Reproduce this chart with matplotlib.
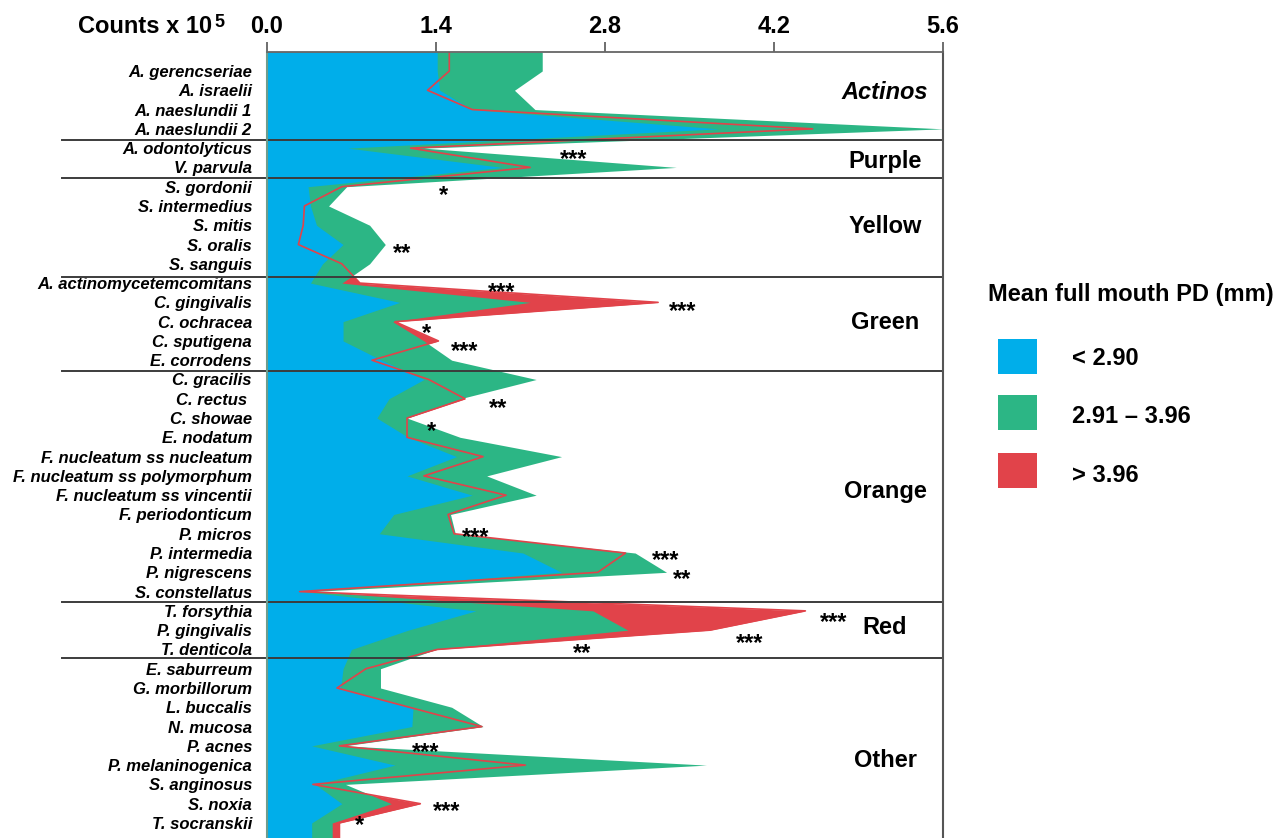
import numpy as np
import matplotlib
matplotlib.use("Agg")
import matplotlib.pyplot as plt
from matplotlib.patches import Rectangle

plt.rcParams['font.family'] = ['Liberation Sans', 'DejaVu Sans']

species = ["A. gerencseriae", "A. israelii", "A. naeslundii 1", "A. naeslundii 2",
           "A. odontolyticus", "V. parvula",
           "S. gordonii", "S. intermedius", "S. mitis", "S. oralis", "S. sanguis",
           "A. actinomycetemcomitans", "C. gingivalis", "C. ochracea", "C. sputigena", "E. corrodens",
           "C. gracilis", "C. rectus ", "C. showae", "E. nodatum", "F. nucleatum ss nucleatum",
           "F. nucleatum ss polymorphum", "F. nucleatum ss vincentii", "F. periodonticum",
           "P. micros", "P. intermedia", "P. nigrescens", "S. constellatus",
           "T. forsythia", "P. gingivalis", "T. denticola",
           "E. saburreum", "G. morbillorum", "L. buccalis", "N. mucosa", "P. acnes",
           "P. melaninogenica", "S. anginosus", "S. noxia", "T. socranskii"]

# mean counts x 10^5 for each PD category
low = [1.41, 1.43, 1.70, 3.74, 0.67, 1.95, 0.34, 0.36, 0.41, 0.63, 0.46,
       0.36, 1.10, 0.63, 0.63, 0.95, 1.30, 1.01, 0.91, 1.17, 1.57, 1.16, 1.70,
       1.05, 0.93, 2.12, 2.44, 0.30, 1.73, 1.17, 0.70, 0.63, 0.61, 1.21, 1.20,
       0.37, 1.06, 0.40, 0.62, 0.37]
mid = [2.28, 2.05, 2.22, 5.60, 1.30, 3.39, 0.66, 0.51, 0.85, 0.98, 0.85,
       0.62, 2.18, 1.04, 1.30, 1.53, 2.23, 1.60, 1.16, 1.60, 2.44, 1.82, 2.23,
       1.52, 1.56, 3.05, 3.31, 0.36, 2.70, 2.99, 1.40, 0.94, 0.94, 1.53, 1.79,
       0.64, 3.64, 0.65, 1.03, 0.54]
high = [1.51, 1.33, 1.70, 4.52, 1.19, 2.18, 0.62, 0.31, 0.30, 0.26, 0.62,
        0.77, 3.24, 1.06, 1.42, 0.87, 1.34, 1.64, 1.16, 1.16, 1.79, 1.30, 1.98,
        1.50, 1.55, 2.97, 2.74, 0.27, 4.46, 3.67, 1.41, 0.82, 0.58, 1.18, 1.78,
        0.60, 2.14, 0.38, 1.27, 0.60]

groups = ["Actinos", "Purple", "Yellow", "Green", "Orange", "Red", "Other"]
group_rows = [2.45, 6.03, 9.40, 14.38, 23.15, 30.20, 37.10]
group_sep = [4.58, 6.57, 11.67, 16.54, 28.56, 31.46]

# significance marks: (row baseline, x value, text)
stars = [(5.95, 2.54, "***"), (7.82, 1.46, "*"), (10.80, 1.12, "**"),
         (12.80, 1.94, "***"), (13.80, 3.44, "***"), (14.95, 1.32, "*"),
         (15.86, 1.64, "***"), (18.82, 1.91, "**"), (20.03, 1.36, "*"),
         (25.51, 1.73, "***"), (26.75, 3.30, "***"), (27.70, 3.44, "**"),
         (29.92, 4.69, "***"), (31.04, 4.00, "***"), (31.56, 2.61, "**"),
         (36.66, 1.31, "***"), (39.72, 1.49, "***"), (40.45, 0.765, "*")]

legend_labels = ["< 2.90", "2.91 \u2013 3.96", "> 3.96"]

c_blue = '#00AEEA'
c_green = '#2CB685'
c_red = '#E1434A'

W, H = 1277, 838
fig = plt.figure(figsize=(W / 100, H / 100), dpi=100)
ax = fig.add_axes([267 / W, 0, 676 / W, (H - 52) / H])

y_top, y_bot = 0.0145, 40.78
rows = np.arange(1, len(species) + 1)
y_ext = np.concatenate([[y_top], rows, [y_bot]])

def ext(v):
    return np.concatenate([[v[0]], v, [v[-1]]])

ax.fill_betweenx(y_ext, 0, ext(high), color=c_red, lw=0, zorder=1)
ax.fill_betweenx(y_ext, 0, ext(mid), color=c_green, lw=0, zorder=2)
ax.fill_betweenx(y_ext, 0, ext(low), color=c_blue, lw=0, zorder=3)
ax.plot(ext(high), y_ext, color=c_red, lw=1.2, zorder=4)

ax.set_xlim(0, 5.6)
ax.set_ylim(y_bot, y_top)

for s in group_sep:
    ax.plot([-0.303, 1.0], [s, s], transform=ax.get_yaxis_transform(),
            color='#3c3c3c', lw=1.4, clip_on=False, zorder=5)

ax.xaxis.tick_top()
ax.set_xticks([0, 1.4, 2.8, 4.2, 5.6])
ax.set_xticklabels(["0.0", "1.4", "2.8", "4.2", "5.6"], fontsize=17, fontweight='bold')
ax.tick_params(axis='x', length=7, width=1.2, color='#555555', pad=3)
ax.set_yticks(rows)
ax.set_yticklabels(species, fontsize=12, fontweight='bold', fontstyle='italic')
ax.tick_params(axis='y', length=0, pad=10.8)

ax.spines['bottom'].set_visible(False)
ax.spines['top'].set_color('#666666')
ax.spines['top'].set_linewidth(1.3)
ax.spines['right'].set_color('#555555')
ax.spines['right'].set_linewidth(1.5)
ax.spines['left'].set_color('#6f9c8c')
ax.spines['left'].set_linewidth(1.5)
for sp in ax.spines.values():
    sp.set_zorder(6)

for g, r in zip(groups, group_rows):
    ax.text(5.12, r, g, ha='center', va='baseline', fontsize=17, fontweight='bold',
            fontstyle='italic' if g == "Actinos" else 'normal', zorder=7)

for r, x, t in stars:
    ax.text(x, r, t, ha='center', va='baseline', fontsize=17, fontweight='bold',
            zorder=7, clip_on=False)

fig.text(212 / W, 1 - 33 / H, "Counts x 10", ha='right', va='baseline',
         fontsize=17, fontweight='bold')
fig.text(214 / W, 1 - 27 / H, "5", ha='left', va='baseline',
         fontsize=13, fontweight='bold')

# legend
fig.text(988 / W, 1 - 301 / H, "Mean full mouth PD (mm)", ha='left', va='baseline',
         fontsize=17, fontweight='bold')
box_top = [339, 395, 453]
base = [365, 423, 482]
for col, lab, bt, bl in zip([c_blue, c_green, c_red], legend_labels, box_top, base):
    fig.add_artist(Rectangle((998 / W, 1 - (bt + 35) / H), 39 / W, 35 / H,
                             transform=fig.transFigure, color=col, lw=0))
    fig.text(1072 / W, 1 - bl / H, lab, ha='left', va='baseline',
             fontsize=17, fontweight='bold')

fig.savefig("out.png", dpi=100)
